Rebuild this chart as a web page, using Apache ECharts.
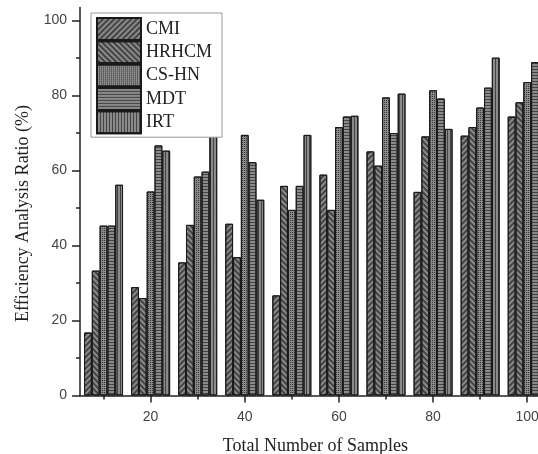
<!DOCTYPE html>
<html>
<head>
<meta charset="utf-8">
<script src="https://cdn.jsdelivr.net/npm/echarts@6/dist/echarts.min.js"></script>
<style>
  html, body { margin: 0; padding: 0; background: #ffffff; }
  #chart { width: 538px; height: 454px; }
</style>
</head>
<body>
<div id="chart"></div>
<script>
  // sample counts (x positions of the groups)
  const samples = [10, 20, 30, 40, 50, 60, 70, 80, 90, 100];
  const seriesNames = ['CMI', 'HRHCM', 'CS-HN', 'MDT', 'IRT'];
  const cmi   = [16.8, 28.9, 35.5, 45.8, 26.7, 58.9, 65.1, 54.3, 69.3, 74.4];
  const hrhcm = [33.3, 26.0, 45.5, 36.9, 55.9, 49.5, 61.3, 69.1, 71.6, 78.2];
  const cshn  = [45.3, 54.4, 58.4, 69.5, 49.5, 71.6, 79.5, 81.4, 76.8, 83.6];
  const mdt   = [45.3, 66.7, 59.7, 62.2, 55.9, 74.4, 70.0, 79.2, 82.1, 88.9];
  const irt   = [56.2, 65.3, 80.0, 52.2, 69.5, 74.6, 80.5, 71.1, 90.1, 95.6];
  const xMajorTicks = [20, 40, 60, 80, 100];
  const xMinorTicks = [10, 30, 50, 70, 90];
  const yMajorTicks = [0, 20, 40, 60, 80, 100];
  const yMinorTicks = [10, 30, 50, 70, 90];

  const values = [cmi, hrhcm, cshn, mdt, irt];

  // hatch patterns, one per method
  const decals = [
    {symbol: 'rect', symbolSize: 1, dashArrayX: [1, 0], dashArrayY: [1.5, 2], rotation: -Math.PI / 4, color: 'rgba(20,20,20,0.6)'},
    {symbol: 'rect', symbolSize: 1, dashArrayX: [1, 0], dashArrayY: [1.5, 2], rotation: Math.PI / 4, color: 'rgba(20,20,20,0.6)'},
    {symbol: 'rect', symbolSize: 1, dashArrayX: [1, 1], dashArrayY: [1, 1], rotation: 0, color: 'rgba(20,20,20,0.7)'},
    {symbol: 'rect', symbolSize: 1, dashArrayX: [1, 0], dashArrayY: [1, 2], rotation: 0, color: 'rgba(20,20,20,0.6)'},
    {symbol: 'rect', symbolSize: 1, dashArrayX: [1, 2], dashArrayY: [1, 0], rotation: 0, color: 'rgba(20,20,20,0.6)'}
  ];

  const gridBox = {left: 80, top: 7.4, width: 470.75, height: 388.1, outerBoundsMode: 'none'};
  const axisColor = '#222';
  const labelFont = {fontFamily: 'Liberation Sans', fontSize: 14, color: '#444'};
  const serifFont = {fontFamily: 'Liberation Serif', fontSize: 18, color: '#222'};

  const myChart = echarts.init(document.getElementById('chart'));

  const series = seriesNames.map((name, i) => ({
    name: name,
    type: 'bar',
    xAxisIndex: 0,
    yAxisIndex: 0,
    barWidth: 7.8,
    barGap: '0%',
    itemStyle: {
      color: '#8a8a8a',
      borderColor: '#1a1a1a',
      borderWidth: 1,
      decal: decals[i]
    },
    data: samples.map((s, j) => [s, values[i][j]])
  }));

  const option = {
    animation: false,
    backgroundColor: '#ffffff',
    legend: {
      orient: 'vertical',
      left: 91,
      top: 13,
      padding: [4, 10, 3, 5],
      itemWidth: 44,
      itemHeight: 22,
      itemGap: -0.7,
      icon: 'rect',
      backgroundColor: '#ffffff',
      borderColor: '#999',
      borderWidth: 1,
      textStyle: serifFont,
      data: seriesNames
    },
    grid: [gridBox, Object.assign({}, gridBox)],
    xAxis: [
      {
        type: 'value',
        gridIndex: 0,
        min: 5,
        max: 105,
        name: 'Total Number of Samples',
        nameLocation: 'middle',
        nameGap: 42,
        nameTextStyle: serifFont,
        splitLine: {show: false},
        axisLine: {lineStyle: {color: axisColor, width: 1.5}},
        axisTick: {length: 7, customValues: xMajorTicks, lineStyle: {color: axisColor, width: 1.5}},
        axisLabel: Object.assign({margin: 15, customValues: xMajorTicks}, labelFont)
      },
      {
        type: 'value',
        gridIndex: 1,
        min: 5,
        max: 105,
        splitLine: {show: false},
        axisLine: {show: false},
        axisTick: {length: 4, customValues: xMinorTicks, lineStyle: {color: axisColor, width: 1.5}},
        axisLabel: {show: false}
      }
    ],
    yAxis: [
      {
        type: 'value',
        gridIndex: 0,
        min: 0,
        max: 103.5,
        name: 'Efficiency Analysis Ratio (%)',
        nameLocation: 'middle',
        nameGap: 43,
        nameTextStyle: Object.assign({padding: [0, 24, 0, 0]}, serifFont),
        splitLine: {show: false},
        axisLine: {show: true, lineStyle: {color: axisColor, width: 1.5}},
        axisTick: {show: true, length: 8, customValues: yMajorTicks, lineStyle: {color: axisColor, width: 1.5}},
        axisLabel: Object.assign({margin: 13, customValues: yMajorTicks}, labelFont)
      },
      {
        type: 'value',
        gridIndex: 1,
        min: 0,
        max: 103.5,
        splitLine: {show: false},
        axisLine: {show: false},
        axisTick: {show: true, length: 4, customValues: yMinorTicks, lineStyle: {color: axisColor, width: 1.5}},
        axisLabel: {show: false}
      }
    ],
    series: series
  };

  myChart.setOption(option);
</script>
</body>
</html>
